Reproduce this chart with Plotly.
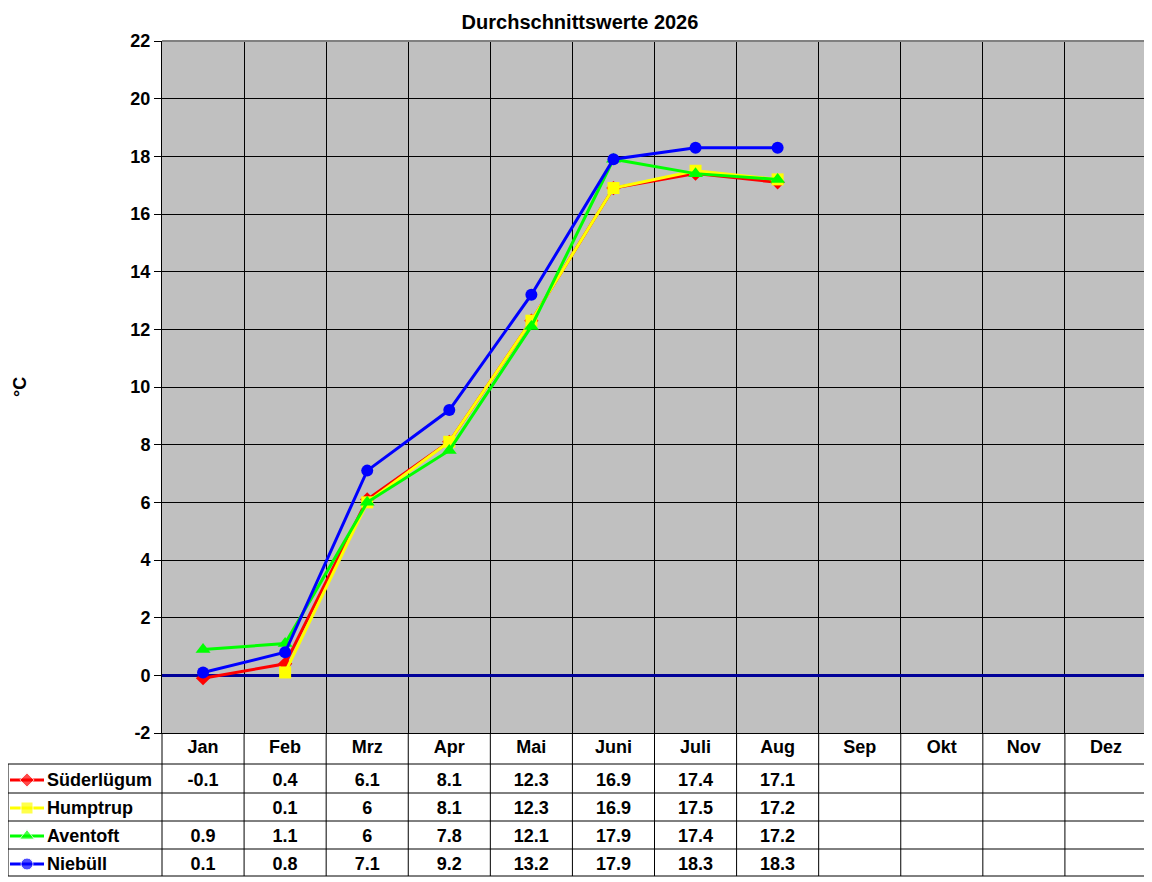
import plotly.graph_objects as go

# Monatsmittel 2026
months = ["Jan", "Feb", "Mrz", "Apr", "Mai", "Juni", "Juli", "Aug",
          "Sep", "Okt", "Nov", "Dez"]
stations = ["Süderlügum", "Humptrup", "Aventoft", "Niebüll"]
suederluegum = [-0.1, 0.4, 6.1, 8.1, 12.3, 16.9, 17.4, 17.1]
humptrup = [None, 0.1, 6, 8.1, 12.3, 16.9, 17.5, 17.2]
aventoft = [0.9, 1.1, 6, 7.8, 12.1, 17.9, 17.4, 17.2]
niebuell = [0.1, 0.8, 7.1, 9.2, 13.2, 17.9, 18.3, 18.3]
y_ticks = list(range(-2, 23, 2))

series = [suederluegum, humptrup, aventoft, niebuell]
colors = ["#FF0000", "#FFFF00", "#00FF00", "#0000FF"]
symbols = ["diamond", "square", "triangle-up", "circle"]
msizes = [11, 12, 13, 12]

# pixel layout (page body has an 8px margin, so everything is shifted by it)
OFF = 8
W, H = 1152, 882
LEFT, PL, PR = 8 - OFF, 162 - OFF, 1147 - OFF
TOP, PB, BOT = 41 - OFF, 733 - OFF, 877 - OFF
mw = (PR - PL) / 12
x2_left = -0.5 - (PL - LEFT) / mw


def px_x(p):
    # reference pixel -> x2 data value
    return x2_left + (p - OFF - LEFT) / mw


fig = go.Figure()

for name, vals, c, s, ms in zip(stations, series, colors, symbols, msizes):
    fig.add_trace(go.Scatter(
        x=months[:len(vals)], y=vals, name=name, mode="lines+markers",
        line=dict(color=c, width=3), marker=dict(color=c, symbol=s, size=ms),
        connectgaps=False, showlegend=False, cliponaxis=False,
    ))

# table: header row with months
idx = list(range(len(months)))
row_edges = [0, 31, 60, 88, 116, 143]
text_y = [15, 48, 76, 104, 132]
cell_font = dict(family="Liberation Sans, Arial", size=18, color="black")

fig.add_trace(go.Scatter(
    x=idx, y=[text_y[0]] * len(idx), text=months, mode="text",
    textfont=cell_font, xaxis="x2", yaxis="y2", showlegend=False,
    hoverinfo="skip",
))

for r, (name, vals, c, s, ms) in enumerate(zip(stations, series, colors, symbols, msizes)):
    labels = ["" if v is None else f"{v:g}" for v in vals]
    labels += [""] * (len(months) - len(labels))
    fig.add_trace(go.Scatter(
        x=idx, y=[text_y[r + 1]] * len(idx), text=labels, mode="text",
        textfont=cell_font, xaxis="x2", yaxis="y2", showlegend=False,
        hoverinfo="skip",
    ))
    # legend key
    fig.add_trace(go.Scatter(
        x=[px_x(10), px_x(27), px_x(44)], y=[text_y[r + 1] - 1] * 3,
        mode="lines+markers", line=dict(color=c, width=3),
        marker=dict(color=c, symbol=s, size=[0, ms, 0]),
        xaxis="x2", yaxis="y2", showlegend=False, hoverinfo="skip",
    ))
    fig.add_trace(go.Scatter(
        x=[px_x(47)], y=[text_y[r + 1]], text=[name], mode="text",
        textposition="middle right", textfont=cell_font,
        xaxis="x2", yaxis="y2", showlegend=False, hoverinfo="skip",
    ))

# grey plot area background
fig.add_shape(type="rect", xref="x domain", yref="y domain", x0=0, x1=1,
              y0=0, y1=1, fillcolor="#C0C0C0", line_width=0, layer="below")

# table lines
line_k = dict(color="black", width=1)
for e in row_edges[1:]:
    fig.add_shape(type="line", xref="x2", yref="y2", x0=px_x(8), x1=11.5,
                  y0=e, y1=e, line=line_k)
fig.add_shape(type="line", xref="x2", yref="y2", x0=-0.5, x1=11.5,
              y0=0, y1=0, line=line_k)
fig.add_shape(type="line", xref="x2", yref="y2", x0=px_x(8), x1=px_x(8),
              y0=row_edges[1], y1=row_edges[-1], line=line_k)
for i in range(len(months) + 1):
    fig.add_shape(type="line", xref="x2", yref="y2", x0=i - 0.5, x1=i - 0.5,
                  y0=0, y1=row_edges[-1], line=line_k)

# grey frame top / right of plot area
fig.add_shape(type="line", xref="x domain", yref="y domain", x0=0, x1=1, y0=1, y1=1,
              line=dict(color="#808080", width=2))
fig.add_shape(type="line", xref="x domain", yref="y domain", x0=1, x1=1, y0=0, y1=1,
              line=dict(color="#808080", width=2))

ph = BOT - TOP
pw = W - (W - PR) - LEFT
tick_font = dict(family="Liberation Sans, Arial", size=18, color="black")
fig.update_layout(
    width=W, height=H,
    margin=dict(l=LEFT, r=W - PR, t=TOP, b=H - BOT),
    paper_bgcolor="white", plot_bgcolor="white",
    font=dict(family="Liberation Sans, Arial", color="black"),
    title=dict(text="<b>Durchschnittswerte 2026</b>", x=(580 - OFF) / W,
               xanchor="center", y=1 - (22 - OFF) / H, yanchor="middle",
               yref="container",
               font=dict(family="Liberation Sans, Arial", size=20, color="black")),
    xaxis=dict(domain=[(PL - LEFT) / pw, 1], type="category",
               categoryorder="array", categoryarray=months,
               range=[-0.5, 11.5], tickson="boundaries", showgrid=True,
               gridcolor="black", gridwidth=1, showticklabels=False, ticks="",
               showline=True, linecolor="black", linewidth=1, zeroline=False),
    yaxis=dict(domain=[(BOT - PB) / ph, 1], range=[-2, 22], tickvals=y_ticks,
               ticktext=[f"<b>{v}</b>" for v in y_ticks], tickfont=tick_font,
               ticks="outside", ticklen=7, tickcolor="black", showgrid=True,
               gridcolor="black", gridwidth=1, showline=True, linecolor="black",
               linewidth=1, zeroline=True, zerolinecolor="#000099",
               zerolinewidth=3),
    xaxis2=dict(domain=[0, 1], anchor="y2", range=[x2_left, 11.5], visible=False),
    yaxis2=dict(domain=[0, (BOT - PB) / ph], anchor="x2",
                range=[BOT - PB, 0], visible=False),
    annotations=[dict(text="<b>°C</b>", xref="paper", yref="paper",
                      x=(20 - OFF - LEFT) / pw, y=(BOT - (387 - OFF)) / ph,
                      xanchor="center", yanchor="middle",
                      textangle=-90, showarrow=False, font=tick_font)],
)

for tr in fig.data:
    if tr.mode == "text":
        tr.texttemplate = "<b>%{text}</b>"

fig.write_html("out.html")
